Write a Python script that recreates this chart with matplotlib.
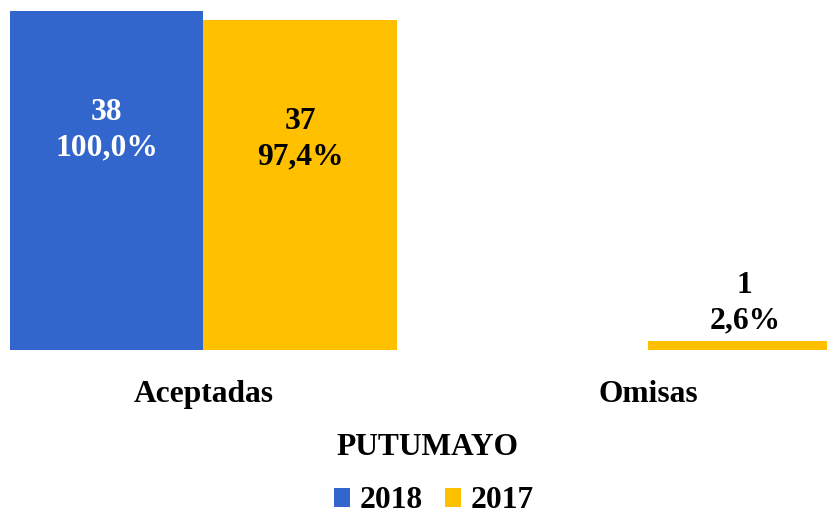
import matplotlib
matplotlib.use("Agg")
import matplotlib.pyplot as plt
from matplotlib.patches import Patch
import numpy as np

categories = ["Aceptadas", "Omisas"]
series_names = ["2018", "2017"]
values_2018 = [38, 0]
values_2017 = [37, 1]
pct_2018 = ["100,0%", ""]
pct_2017 = ["97,4%", "2,6%"]
title = "PUTUMAYO"

colors = {"2018": "#3366CC", "2017": "#FFC000"}

plt.rcParams["font.family"] = ["Liberation Serif", "DejaVu Serif"]
plt.rcParams["font.weight"] = "bold"
FS = 22.7

fig = plt.figure(figsize=(8.28, 5.14), dpi=100)
ax = fig.add_axes([0.0, 0.32, 1.0, 0.68])

x = np.arange(len(categories))
width = 0.4353
bars18 = ax.bar(x - width / 2, values_2018, width, color=colors["2018"], linewidth=0)
bars17 = ax.bar(x + width / 2, values_2017, width, color=colors["2017"], linewidth=0)

ax.set_xlim(-0.4578, 1.405)
ax.set_ylim(0, 349.5 * 38 / 338.5)

# value labels: large bars get the label inside near the top, small ones above
for bars, vals, pcts, inside_color in ((bars18, values_2018, pct_2018, "white"),
                                       (bars17, values_2017, pct_2017, "black")):
    for b, v, p in zip(bars, vals, pcts):
        if v == 0:
            continue
        cx = b.get_x() + b.get_width() / 2
        label = f"{v}\n{p}"
        if v > 5:
            ax.annotate(label, (cx, v), xytext=(0, -62.4), textcoords="offset points",
                        ha="center", va="top", fontsize=FS, fontweight="bold",
                        color=inside_color, linespacing=1.3)
        else:
            ax.annotate(label, (cx, v), xytext=(0, 3.5), textcoords="offset points",
                        ha="center", va="bottom", fontsize=FS, fontweight="bold",
                        color="black", linespacing=1.3, annotation_clip=False)

ax.set_xticks(x)
ax.set_xticklabels(categories, fontsize=FS, fontweight="bold")
ax.tick_params(axis="x", length=0, pad=22)
ax.set_yticks([])
for s in ax.spines.values():
    s.set_visible(False)

fig.text(427 / 828, 1 - 455 / 514, title, ha="center", va="baseline",
         fontsize=FS, fontweight="bold")

handles = [Patch(facecolor=colors[n], edgecolor="none") for n in series_names]
fig.legend(handles, series_names, loc="center", bbox_to_anchor=(434 / 828, 13 / 514),
           ncol=2, frameon=False, fontsize=FS, handlelength=0.52, handleheight=0.52,
           handletextpad=0.3, columnspacing=0.7, borderpad=0, borderaxespad=0,
           prop={"weight": "bold", "size": FS})

fig.savefig("out.png", dpi=100)
